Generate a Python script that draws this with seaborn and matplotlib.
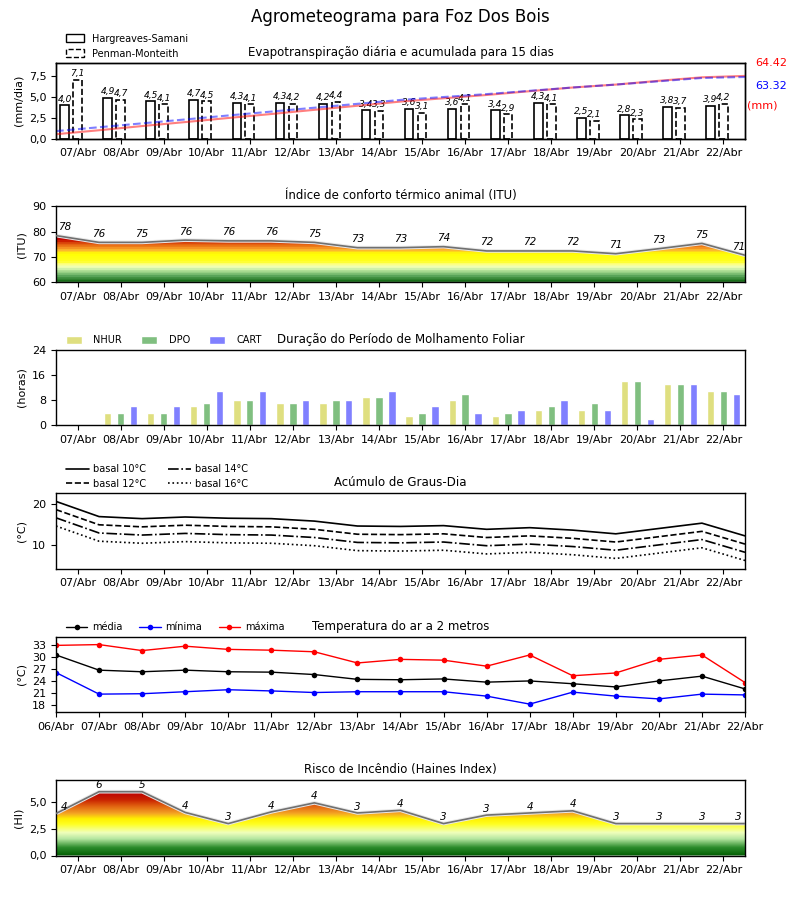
import numpy as np
import matplotlib
matplotlib.use('Agg')
import matplotlib.pyplot as plt
import seaborn as sns
import matplotlib.ticker as mticker
from matplotlib.colors import LinearSegmentedColormap
from matplotlib.patches import Patch

dias = ['06/Abr', '07/Abr', '08/Abr', '09/Abr', '10/Abr', '11/Abr', '12/Abr', '13/Abr',
        '14/Abr', '15/Abr', '16/Abr', '17/Abr', '18/Abr', '19/Abr', '20/Abr', '21/Abr', '22/Abr']

# evapotranspiracao diaria (mm/dia) e acumulada (mm)
et_hs = [4.0, 4.9, 4.5, 4.7, 4.3, 4.3, 4.2, 3.4, 3.6, 3.6, 3.4, 4.3, 2.5, 2.8, 3.8, 3.9]
et_pm = [7.1, 4.7, 4.1, 4.5, 4.1, 4.2, 4.4, 3.3, 3.1, 4.1, 2.9, 4.1, 2.1, 2.3, 3.7, 4.2]
acc_hs = [4.4, 8.5, 12.8, 16.9, 21.1, 25.2, 29.5, 33.7, 38.0, 41.4, 44.8, 48.7, 52.5, 55.5, 59.4, 63.0, 64.42]
acc_pm = [7.6, 11.6, 15.6, 19.6, 23.7, 27.7, 31.7, 35.7, 39.7, 42.7, 45.7, 49.1, 52.5, 55.5, 58.9, 62.3, 63.32]

# ITU
itu = [78.4, 75.7, 75.7, 76.6, 76.3, 76.3, 75.7, 73.6, 73.6, 74.0, 72.3, 72.3, 72.3, 71.2, 73.2, 75.3, 70.6]
itu_rot = [78, 76, 75, 76, 76, 76, 75, 73, 73, 74, 72, 72, 72, 71, 73, 75, 71]

# molhamento foliar (horas)
nhur = [0, 4, 4, 6, 8, 7, 7, 9, 3, 8, 3, 5, 5, 14, 13, 11]
dpo = [0, 4, 4, 7, 8, 7, 8, 9, 4, 10, 4, 6, 7, 14, 13, 11]
cart = [0, 6, 6, 11, 11, 8, 8, 11, 6, 4, 5, 8, 5, 2, 13, 10]

# graus-dia
gd10 = [20.6, 16.9, 16.4, 16.8, 16.5, 16.4, 15.8, 14.6, 14.5, 14.7, 13.8, 14.2, 13.6, 12.7, 14.0, 15.3, 12.2]
gd12 = [18.6, 14.9, 14.4, 14.8, 14.5, 14.4, 13.8, 12.6, 12.5, 12.7, 11.8, 12.2, 11.6, 10.7, 12.0, 13.3, 10.2]
gd14 = [16.6, 12.9, 12.4, 12.8, 12.5, 12.4, 11.8, 10.6, 10.5, 10.7, 9.8, 10.2, 9.6, 8.7, 10.0, 11.3, 8.2]
gd16 = [14.6, 10.9, 10.4, 10.8, 10.5, 10.4, 9.8, 8.6, 8.5, 8.7, 7.8, 8.2, 7.6, 6.7, 8.0, 9.3, 6.2]

# temperatura do ar (C)
t_med = [30.6, 26.8, 26.4, 26.8, 26.4, 26.3, 25.7, 24.5, 24.4, 24.6, 23.8, 24.1, 23.4, 22.6, 24.1, 25.3, 22.1]
t_min = [26.2, 20.8, 20.9, 21.4, 21.9, 21.6, 21.2, 21.4, 21.4, 21.4, 20.3, 18.3, 21.3, 20.3, 19.6, 20.8, 20.6]
t_max = [33.0, 33.2, 31.7, 32.8, 32.0, 31.8, 31.4, 28.6, 29.5, 29.3, 27.8, 30.6, 25.4, 26.1, 29.5, 30.6, 23.7]

# Haines
haines = [3.95, 6.0, 6.0, 4.05, 3.0, 4.1, 4.95, 4.0, 4.25, 3.0, 3.8, 4.0, 4.2, 3.0, 3.0, 3.0, 3.0]
haines_rot = [4, 6, 5, 4, 3, 4, 4, 3, 4, 3, 3, 4, 4, 3, 3, 3, 3]

# ---- estilo ----
sns.set_theme(style='ticks', rc={'axes.edgecolor': 'black', 'text.color': 'black',
                                 'xtick.color': 'black', 'ytick.color': 'black',
                                 'axes.labelcolor': 'black', 'axes.linewidth': 1.0})
plt.rcParams['font.family'] = ['DejaVu Sans']
plt.rcParams['font.size'] = 8

x_pts = np.arange(len(dias))          # 0..16
x_dia = np.arange(len(et_hs))         # 0..15
tick_mid = x_dia + 0.5
tick_lab = dias[1:]

fig = plt.figure(figsize=(8, 9), dpi=100)
axs = []
for k in range(6):
    top = 63 + 143.4 * k
    axs.append(fig.add_axes([56 / 800, 1 - (top + 75.5) / 900, 689 / 800, 75.5 / 900]))

fig.text(0.5, 1 - 17 / 900, 'Agrometeograma para Foz Dos Bois', ha='center', va='center', fontsize=12)

virgula = mticker.FuncFormatter(lambda v, _: f'{v:.1f}'.replace('.', ','))


def eixo_x(ax, ticks, labels):
    ax.set_xlim(0, 16)
    ax.set_xticks(ticks)
    ax.set_xticklabels(labels, fontsize=8)
    ax.tick_params(axis='both', labelsize=8, length=3.5, width=0.8)


def escala(pares, vmin, vmax, n):
    return LinearSegmentedColormap.from_list(
        'g', [((v - vmin) / (vmax - vmin), c) for v, c in pares], N=n)


def preenche_gradiente(ax, y, cmap, vmin, vmax):
    poly = ax.fill_between(x_pts, vmin, y, color='none', lw=0)
    grad = np.linspace(vmin, vmax, 256).reshape(-1, 1)
    im = ax.imshow(grad, extent=[0, 16, vmin, vmax], origin='lower', aspect='auto',
                   cmap=cmap, zorder=1)
    im.set_clip_path(poly.get_paths()[0], transform=ax.transData)
    ax.plot(x_pts, y, color='#e8e8e8', lw=2.6, zorder=2)
    ax.plot(x_pts, y, color='#707070', lw=1.2, zorder=3)


leg_kw = dict(loc='lower left', bbox_to_anchor=(0.006, 0.98), frameon=False, fontsize=7,
              borderaxespad=0.2)

# ---- 1: evapotranspiracao ----
ax = axs[0]
ax.bar(x_dia + 0.2, et_hs, width=0.2, facecolor='white', edgecolor='black', lw=1.2, zorder=2)
ax.bar(x_dia + 0.5, et_pm, width=0.2, facecolor='white', edgecolor='black', lw=1.2,
       linestyle='--', zorder=2)
for i in x_dia:
    ax.text(i + 0.2, et_hs[i] + 0.2, f'{et_hs[i]:.1f}'.replace('.', ','), ha='center', va='bottom',
            fontsize=6.5, style='italic')
    ax.text(i + 0.5, et_pm[i] + 0.2, f'{et_pm[i]:.1f}'.replace('.', ','), ha='center', va='bottom',
            fontsize=6.5, style='italic')
ax.set_ylim(0, 9.1)
ax.set_yticks([0, 2.5, 5.0, 7.5])
ax.yaxis.set_major_formatter(virgula)
ax.set_ylabel('(mm/dia)', fontsize=8)
eixo_x(ax, tick_mid, tick_lab)
ax.set_title('Evapotranspiração diária e acumulada para 15 dias', fontsize=8.5, pad=5)
ax2 = ax.twinx()
sns.lineplot(x=x_pts, y=acc_hs, ax=ax2, color='red', alpha=0.5, lw=1.5)
sns.lineplot(x=x_pts, y=acc_pm, ax=ax2, color='blue', alpha=0.5, lw=1.5, linestyle='--')
ax2.set_ylim(0, 9.1 * 8.54)
ax2.set_xlim(0, 16)
ax2.set_yticks([])
ax2.set_ylabel('')
ax.text(1.015, 1.0, f'{acc_hs[-1]:.2f}', transform=ax.transAxes, color='red', fontsize=8, va='center')
ax.text(1.015, 0.69, f'{acc_pm[-1]:.2f}', transform=ax.transAxes, color='blue', fontsize=8, va='center')
ax.text(1.003, 0.44, '(mm)', transform=ax.transAxes, color='red', fontsize=8, va='center')
ax.legend(handles=[Patch(facecolor='white', edgecolor='black', label='Hargreaves-Samani'),
                   Patch(facecolor='white', edgecolor='black', linestyle='--', label='Penman-Monteith')],
          handlelength=1.9, handleheight=0.9, labelspacing=0.5, handletextpad=0.8, **leg_kw)

# ---- 2: ITU ----
ax = axs[1]
cores_itu = [(60, '#1a6e1a'), (61, '#3c8c3c'), (62, '#5aa55a'), (63.4, '#90cc80'),
             (64.7, '#c8eea8'), (65.7, '#eeffb8'), (67, '#ffff80'), (68, '#ffff20'),
             (71.5, '#ffff00'), (72.3, '#ffc830'), (73.3, '#f8a028'), (74.2, '#f08018'),
             (75.3, '#e05810'), (76.3, '#d02800'), (77.5, '#c40000'), (78.5, '#c00000')]
preenche_gradiente(ax, itu, escala(cores_itu, 60, 78.5, 20), 60, 78.5)
for i in x_pts:
    xl = 0.2 if i == 0 else (15.85 if i == 16 else i)
    ax.text(xl, itu[i] + 3.4, str(itu_rot[i]), ha='center', va='center', fontsize=7.5, style='italic')
ax.set_ylim(60, 90)
ax.set_yticks([60, 70, 80, 90])
ax.set_ylabel('(ITU)', fontsize=8)
eixo_x(ax, tick_mid, tick_lab)
ax.set_title('Índice de conforto térmico animal (ITU)', fontsize=8.5, pad=5)

# ---- 3: molhamento foliar ----
ax = axs[2]
ax.bar(x_dia + 0.2, nhur, width=0.17, color='#dfdf80', label='NHUR', zorder=2)
ax.bar(x_dia + 0.5, dpo, width=0.17, color='#80bf80', label='DPO', zorder=2)
ax.bar(x_dia + 0.8, cart, width=0.17, color='#8080ff', label='CART', zorder=2)
ax.set_ylim(0, 24)
ax.set_yticks([0, 8, 16, 24])
ax.set_ylabel('(horas)', fontsize=8)
eixo_x(ax, tick_mid, tick_lab)
ax.set_title('Duração do Período de Molhamento Foliar', fontsize=8.5, pad=5)
ax.legend(ncol=3, handlelength=1.6, handleheight=0.8, handletextpad=1.2, columnspacing=2.0, **leg_kw)

# ---- 4: graus-dia ----
ax = axs[3]
sns.lineplot(x=x_pts, y=gd10, ax=ax, color='black', lw=1.2, linestyle='-', label='basal 10°C')
sns.lineplot(x=x_pts, y=gd12, ax=ax, color='black', lw=1.2, linestyle='--', label='basal 12°C')
sns.lineplot(x=x_pts, y=gd14, ax=ax, color='black', lw=1.2, linestyle='-.', label='basal 14°C')
sns.lineplot(x=x_pts, y=gd16, ax=ax, color='black', lw=1.2, linestyle=':', label='basal 16°C')
ax.set_ylim(min(gd16) - 2, max(gd10) + 2)
ax.set_yticks([10, 20])
ax.set_ylabel('(°C)', fontsize=8)
eixo_x(ax, tick_mid, tick_lab)
ax.set_title('Acúmulo de Graus-Dia', fontsize=8.5, pad=5)
ax.legend(ncol=2, handlelength=2.4, handletextpad=0.4, columnspacing=2.2, labelspacing=0.5, **leg_kw)

# ---- 5: temperatura ----
ax = axs[4]
sns.lineplot(x=x_pts, y=t_med, ax=ax, color='black', lw=1, marker='o', markersize=4,
             markeredgewidth=0, label='média')
sns.lineplot(x=x_pts, y=t_min, ax=ax, color='blue', lw=1, marker='o', markersize=4,
             markeredgewidth=0, label='mínima')
sns.lineplot(x=x_pts, y=t_max, ax=ax, color='red', lw=1, marker='o', markersize=4,
             markeredgewidth=0, label='máxima')
ax.set_ylim(min(t_min) - 2, max(t_max) + 2)
ax.set_yticks([18, 21, 24, 27, 30, 33])
ax.set_ylabel('(°C)', fontsize=8)
eixo_x(ax, x_pts, dias)
ax.set_title('Temperatura do ar a 2 metros', fontsize=8.5, pad=5)
ax.legend(ncol=3, handlelength=2.2, handletextpad=0.5, columnspacing=1.7, **leg_kw)

# ---- 6: Haines ----
ax = axs[5]
cores_hi = [(0.0, '#005c00'), (0.8, '#2c8c2c'), (1.6, '#b4e6a0'), (2.2, '#f0ffbc'),
            (3.0, '#ffff20'), (3.5, '#fff000'), (4.0, '#f4a424'), (4.7, '#e06010'),
            (5.3, '#c82000'), (6.0, '#bb0000')]
preenche_gradiente(ax, haines, escala(cores_hi, 0, 6.0, 256), 0, 6.0)
for i in x_pts:
    xl = 0.2 if i == 0 else (15.85 if i == 16 else i)
    ax.text(xl, haines[i] + 0.6, str(haines_rot[i]), ha='center', va='center', fontsize=7.5,
            style='italic')
ax.set_ylim(0, 7.1)
ax.set_yticks([0, 2.5, 5.0])
ax.yaxis.set_major_formatter(virgula)
ax.set_ylabel('(HI)', fontsize=8)
eixo_x(ax, tick_mid, tick_lab)
ax.set_title('Risco de Incêndio (Haines Index)', fontsize=8.5, pad=5)

fig.savefig('out.png', dpi=100)
